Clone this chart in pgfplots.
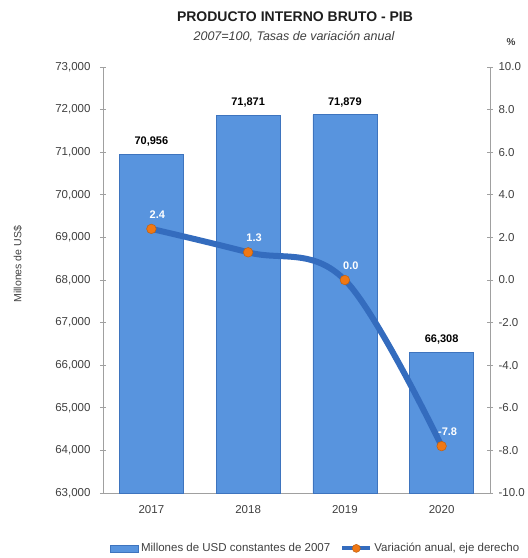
\documentclass[border=0pt]{standalone}
\usepackage{pgfplots}
\pgfplotsset{compat=1.18}
\usepackage{fontspec}
\setmainfont{Liberation Sans}
\definecolor{barblue}{RGB}{88,148,222}
\definecolor{baredge}{RGB}{62,116,190}
\definecolor{lineblue}{RGB}{52,108,190}
\definecolor{mkorange}{RGB}{240,120,20}
\definecolor{axgray}{RGB}{160,160,160}
\definecolor{txtgray}{RGB}{64,64,64}
\begin{document}
\begin{tikzpicture}[x=1pt,y=1pt]
\path[use as bounding box] (0,0) rectangle (528,558);
\begin{axis}[
  at={(103pt,65pt)}, anchor=south west,
  scale only axis, width=387pt, height=426pt,
  xmin=-0.5, xmax=3.5, ymin=63000, ymax=73000,
  axis lines*=left,
  axis line style={axgray, line width=0.8pt},
  xtick={0,1,2,3}, xticklabels={2017,2018,2019,2020},
  xtick style={draw=none},
  extra x ticks={0.5,1.5,2.5}, extra x tick labels={},
  extra x tick style={tick style={axgray, line width=0.8pt, draw=axgray}, major tick length=6pt, tick align=center},
  ytick={63000,64000,...,73000},
  scaled y ticks=false,
  ytick style={axgray, line width=0.8pt},
  major tick length=6pt, tick align=center,
  yticklabel style={/pgf/number format/fixed, /pgf/number format/1000 sep={,}, /pgf/number format/precision=0, xshift=-6pt},
  /pgf/number format/assume math mode=true,
  ticklabel style={font=\fontsize{11.5}{13}\selectfont, text=txtgray},
  xticklabel style={yshift=-3pt},
  ylabel={Millones de US\$},
  ylabel style={font=\fontsize{10.5}{12}\selectfont, text=txtgray, at={(axis description cs:-0.22,0.537)}, anchor=center},
  ybar, bar width=64pt,
  nodes near coords,
  nodes near coords style={font=\bfseries\fontsize{11}{13}\selectfont, text=black, /pgf/number format/fixed, /pgf/number format/1000 sep={,}, /pgf/number format/precision=0, /pgf/number format/assume math mode=true},
  every node near coord/.append style={yshift=4pt},
]
\addplot[fill=barblue, draw=baredge, line width=0.6pt] coordinates {(0,70956) (1,71871) (2,71879) (3,66308)};
\end{axis}
\begin{axis}[
  at={(103pt,65pt)}, anchor=south west,
  scale only axis, width=387pt, height=426pt,
  xmin=-0.5, xmax=3.5, ymin=-10, ymax=10,
  axis x line=none,
  axis y line*=right,
  axis line style={axgray, line width=0.8pt},
  ytick={-10,-8,...,10},
  ytick style={axgray, line width=0.8pt},
  major tick length=6pt, tick align=center,
  yticklabel style={/pgf/number format/fixed, /pgf/number format/fixed zerofill, /pgf/number format/precision=1, xshift=2pt},
  /pgf/number format/assume math mode=true,
  ticklabel style={font=\fontsize{11.5}{13}\selectfont, text=txtgray},
  legend style={at={(axis description cs:0.55,-0.13)}, anchor=center, draw=none, fill=none, legend columns=2, font=\fontsize{11.5}{13}\selectfont, text=txtgray, /tikz/every even column/.append style={column sep=8pt}, inner sep=0pt},
  legend cell align=left,
]
\addlegendimage{legend image code/.code={\draw[fill=barblue, draw=baredge, line width=0.6pt] (-2pt,-3.5pt) rectangle (26pt,3.5pt);}}
\addlegendentry{Millones de USD constantes de 2007}
\addplot[lineblue, line width=6pt, smooth, tension=0.6,
  mark=*, mark size=4.8pt, mark options={fill=mkorange, draw=mkorange!80!black, line width=0.5pt},
  nodes near coords,
  nodes near coords style={font=\bfseries\fontsize{11}{13}\selectfont, text=white, /pgf/number format/fixed, /pgf/number format/fixed zerofill, /pgf/number format/precision=1, /pgf/number format/assume math mode=true},
  every node near coord/.append style={anchor=south, xshift=6pt, yshift=7pt},
  legend image code/.code={\draw[lineblue, line width=4pt] (-2pt,0) -- (26pt,0); \draw[fill=mkorange, draw=mkorange!80!black, line width=0.5pt] (12pt,0) circle (4pt);}
] coordinates {(0,2.4) (1,1.3) (2,0.0) (3,-7.8)};
\addlegendentry{Variación anual, eje derecho}
\end{axis}
\node[font=\bfseries\fontsize{14}{16}\selectfont, text={rgb,255:red,30;green,30;blue,30}] at (295,541) {PRODUCTO INTERNO BRUTO - PIB};
\node[font=\itshape\fontsize{12.5}{15}\selectfont, text=txtgray] at (294,521) {2007=100, Tasas de variación anual};
\node[font=\bfseries\fontsize{10}{12}\selectfont, text=txtgray] at (511,516) {\%};
\end{tikzpicture}
\end{document}
